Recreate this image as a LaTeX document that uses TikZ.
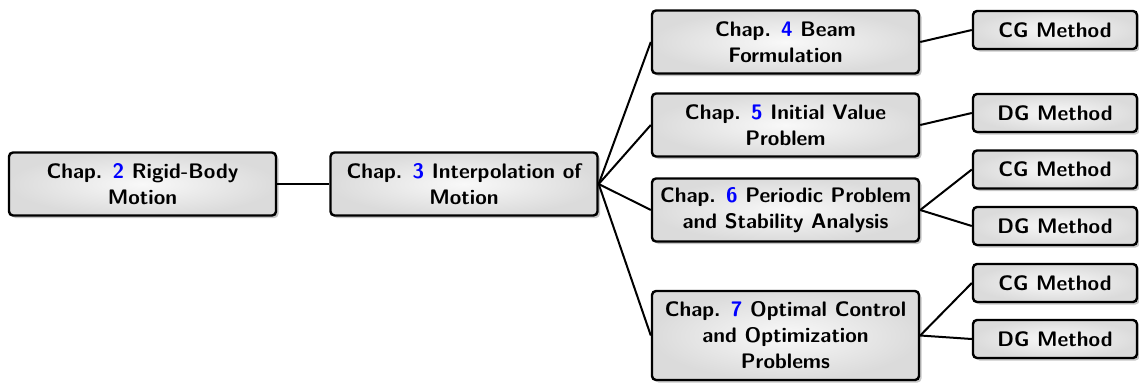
\documentclass[tikz,border=0pt]{standalone}
\usetikzlibrary{shadows}
\tikzset{
  box/.style={draw=black, line width=2.4pt, rounded corners=4pt,
    shading=radial, inner color=gray!5, outer color=gray!28,
    drop shadow={shadow xshift=2.5pt, shadow yshift=-2.5pt, fill=gray!55, opacity=0.8},
    align=center, font=\sffamily\bfseries\fontsize{21}{26}\selectfont,
    inner sep=0pt},
  chap/.style={box, minimum width=267pt, minimum height=63pt},
  meth/.style={box, minimum width=164pt, minimum height=38pt},
  conn/.style={line width=2pt, black}
}
\newcommand{\cn}[1]{\textcolor{blue}{#1}}
\begin{document}
\begin{tikzpicture}[x=1pt,y=-1pt]
\useasboundingbox (0,0) rectangle (1139,383);
\node[chap] (c2) at (142.5,184) {Chap. \cn{2} Rigid-Body\\Motion};
\node[chap] (c3) at (464,184) {Chap. \cn{3} Interpolation of\\Motion};
\node[chap] (c4) at (785.5,42) {Chap. \cn{4} Beam\\Formulation};
\node[chap] (c5) at (785.5,125) {Chap. \cn{5} Initial Value\\Problem};
\node[chap] (c6) at (785.5,210) {Chap. \cn{6} Periodic Problem\\and Stability Analysis};
\node[chap, minimum height=89pt] (c7) at (785.5,335.5) {Chap. \cn{7} Optimal Control\\and Optimization\\Problems};
\node[meth] (m4) at (1055,30) {CG Method};
\node[meth] (m5) at (1055,113) {DG Method};
\node[meth] (m6a) at (1055,169.5) {CG Method};
\node[meth] (m6b) at (1055,226) {DG Method};
\node[meth] (m7a) at (1055,283) {CG Method};
\node[meth] (m7b) at (1055,339) {DG Method};
\draw[conn] (c2.east) -- (c3.west);
\foreach \t in {c4,c5,c6,c7} \draw[conn] (c3.east) -- (\t.west);
\draw[conn] (c4.east) -- (m4.west);
\draw[conn] (c5.east) -- (m5.west);
\draw[conn] (c6.east) -- (m6a.west);
\draw[conn] (c6.east) -- (m6b.west);
\draw[conn] (c7.east) -- (m7a.west);
\draw[conn] (c7.east) -- (m7b.west);
\end{tikzpicture}
\end{document}
